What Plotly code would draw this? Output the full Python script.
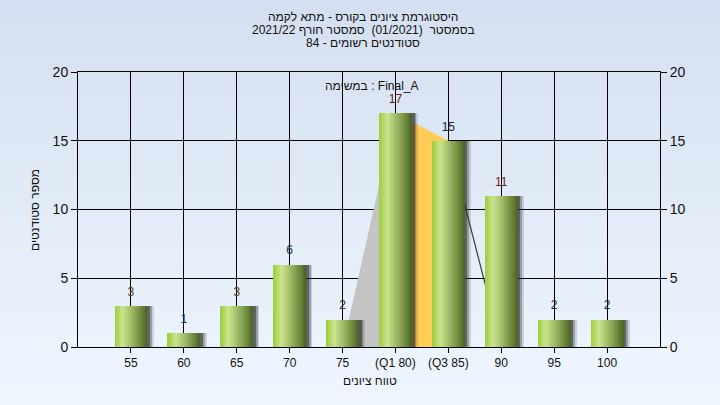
import plotly.graph_objects as go

categories = ["55", "60", "65", "70", "75", "(Q1 80)", "(Q3 85)", "90", "95", "100"]
counts = [3, 1, 3, 6, 2, 17, 15, 11, 2, 2]
label_colors = ["#5a3a10", "#20304a", "#5a3a10", "#20304a", "#3a2a20",
                "#6a1a1a", "#222222", "#6a1a1a", "#1a2a4a", "#1a2a4a"]
y_ticks = [0, 5, 10, 15, 20]

title_lines = ["היסטוגרמת ציונים בקורס - מתא לקמה",
               "בסמסטר  (01/2021)  סמסטר חורף 2021/22",
               "סטודנטים רשומים - 84"]
task_label = "במשימה : Final_A"
x_title = "טווח ציונים"
y_title = "מספר סטודנטים"

FONT = "Liberation Sans"
fig = go.Figure()

W = 0.62
# shadows
for off, col in [(0.12, "rgba(60,60,60,0.18)"), (0.085, "rgba(50,50,50,0.32)"), (0.05, "rgba(40,40,40,0.5)")]:
    fig.add_trace(go.Bar(x=categories, y=counts, width=W, offset=-W / 2 + off,
                         marker=dict(color=col, line=dict(width=0)),
                         hoverinfo="skip", showlegend=False))

# cylindrical gradient strips
stops = [(0.0, (0x9c, 0xcc, 0x3a)), (0.25, (0xcc, 0xe4, 0x8e)), (0.5, (0xa3, 0xbd, 0x6a)),
         (0.78, (0x74, 0x8e, 0x42)), (1.0, (0x4a, 0x64, 0x24))]


def grad(t):
    for (t0, c0), (t1, c1) in zip(stops[:-1], stops[1:]):
        if t0 <= t <= t1:
            f = (t - t0) / (t1 - t0)
            return "rgb(%d,%d,%d)" % tuple(round(a + (b - a) * f) for a, b in zip(c0, c1))
    return "rgb(74,100,36)"


N = 24
for k in range(N):
    w = W / N
    fig.add_trace(go.Bar(x=categories, y=counts, width=W - k * w, offset=-W / 2 + k * w,
                         marker=dict(color=grad((k + 0.5) / N), line=dict(width=0)),
                         hoverinfo="skip", showlegend=False))

# value labels
fig.add_trace(go.Scatter(x=categories, y=counts, mode="text+markers", text=[str(c) for c in counts],
                         textposition="top center", marker=dict(size=10, opacity=0),
                         textfont=dict(family=FONT, size=12, color=label_colors),
                         hoverinfo="skip", showlegend=False))

# right axis dummy
fig.add_trace(go.Scatter(x=categories, y=counts, yaxis="y2", mode="markers",
                         marker=dict(opacity=0), hoverinfo="skip", showlegend=False))

# background gradient bands
shapes = []
top = (0xd4, 0xe0, 0xf1)
bot = (0xef, 0xf6, 0xfe)
nb = 30
for i in range(nb):
    py0 = 405 * i / nb
    py1 = 405 * (i + 1) / nb + 1
    f = i / (nb - 1)
    col = "rgb(%d,%d,%d)" % tuple(round(a + (b - a) * f) for a, b in zip(top, bot))
    shapes.append(dict(type="rect", xref="paper", yref="paper", x0=-0.3, x1=1.3,
                       y0=(347 - py1) / 275, y1=(347 - py0) / 275,
                       fillcolor=col, line=dict(width=0), layer="below"))

# IQR shading (between grid and traces)
i75 = categories.index("75")
iq1 = categories.index("(Q1 80)")
iq3 = categories.index("(Q3 85)")
i90 = categories.index("90")
shapes.append(dict(type="path", xref="x", yref="y", layer="between",
                   path="M %d,0 L %d,%g L %d,0 Z" % (i75, iq1, counts[iq1], iq1),
                   fillcolor="#c4c4c4", line=dict(width=0)))
shapes.append(dict(type="path", xref="x", yref="y", layer="between",
                   path="M %d,0 L %d,%g L %d,%g L %d,0 Z" % (iq1, iq1, counts[iq1], iq3, counts[iq3], iq3),
                   fillcolor="#ffcc55", line=dict(width=0)))
shapes.append(dict(type="line", xref="x", yref="y", layer="between",
                   x0=iq3, y0=counts[iq3], x1=i90, y1=0,
                   line=dict(width=1.2, color="#3a3a3a")))

annotations = []
for i, (line, py) in enumerate(zip(title_lines, [17, 30, 43])):
    annotations.append(dict(text=line, xref="paper", yref="paper", x=(363 - 78) / 582,
                            y=(347 - py) / 275, showarrow=False, xanchor="center", yanchor="middle",
                            font=dict(family=FONT, size=12, color="#111111")))
annotations.append(dict(text=task_label, xref="paper", yref="paper", x=(372 - 78) / 582,
                        y=(347 - 86) / 275, showarrow=False, xanchor="center", yanchor="middle",
                        font=dict(family=FONT, size=12, color="#111111")))
annotations.append(dict(text=x_title, xref="paper", yref="paper", x=(370 - 78) / 582,
                        y=(347 - 381) / 275, showarrow=False, xanchor="center", yanchor="middle",
                        font=dict(family=FONT, size=12, color="#111111")))
annotations.append(dict(text=y_title, xref="paper", yref="paper", x=(35 - 78) / 582,
                        y=(347 - 210) / 275, showarrow=False, xanchor="center", yanchor="middle",
                        textangle=-90, font=dict(family=FONT, size=12, color="#111111")))

axis_common = dict(range=[0, 20], tickvals=y_ticks, ticks="outside", ticklen=6, tickcolor="black",
                   tickwidth=1, showline=True, linecolor="black", linewidth=1,
                   tickfont=dict(family=FONT, size=14, color="#111111"), zeroline=False)

fig.update_layout(
    width=720, height=405,
    margin=dict(l=78, r=60, t=72, b=58),
    paper_bgcolor="#e4edf8",
    plot_bgcolor="#b4b4b4",
    barmode="overlay",
    bargap=0,
    shapes=shapes,
    annotations=annotations,
    showlegend=False,
    xaxis=dict(type="category", categoryorder="array", categoryarray=categories,
               range=[-1, 10], showgrid=True, gridcolor="black", gridwidth=1,
               ticks="outside", ticklen=5, tickcolor="black", showline=True, linecolor="black",
               mirror=True, tickfont=dict(family=FONT, size=12, color="#111111"), zeroline=False),
    yaxis=dict(showgrid=True, gridcolor="black", gridwidth=1, side="left", **axis_common),
    yaxis2=dict(overlaying="y", side="right", showgrid=False, **axis_common),
)

fig.write_html("out.html", config={"displayModeBar": False},
               post_script="document.body.style.margin='0';")
